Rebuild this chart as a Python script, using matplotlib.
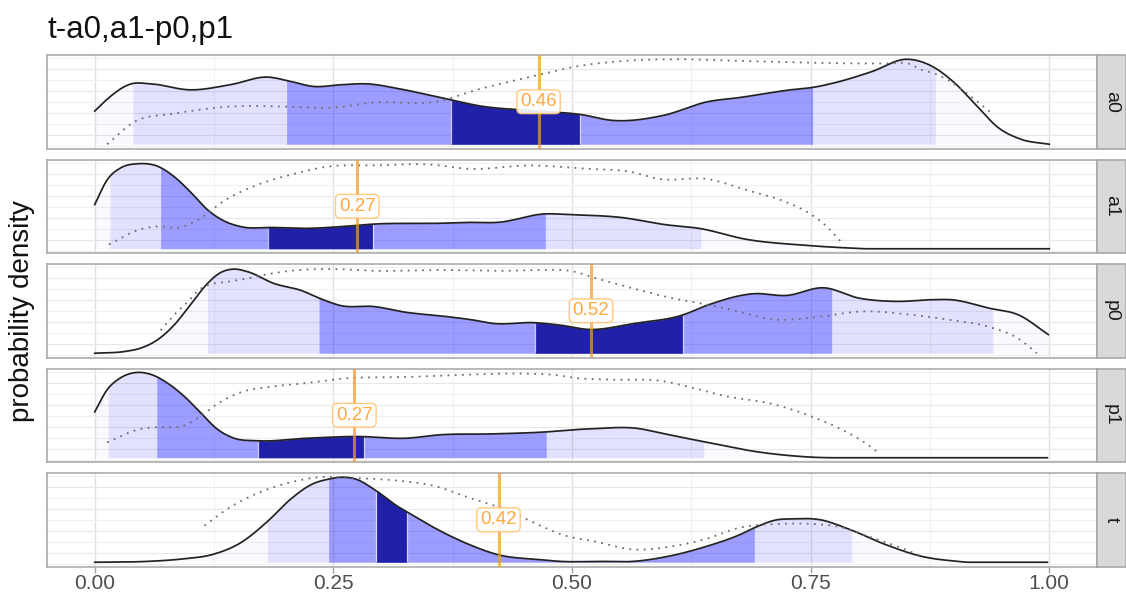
import numpy as np
import matplotlib
matplotlib.use('Agg')
import matplotlib.pyplot as plt
from matplotlib.patches import Rectangle

plt.rcParams['font.family'] = ['Liberation Sans', 'DejaVu Sans']

TITLE = "t-a0,a1-p0,p1"
YLABEL = "probability density"
facets = ["a0", "a1", "p0", "p1", "t"]
xtick_vals = [0.0, 0.25, 0.5, 0.75, 1.0]
xtick_labels = ["0.00", "0.25", "0.50", "0.75", "1.00"]

# ---- posterior density (solid) ----
a0_x = [0, .012, .038, .059, .10, .142, .181, .205, .229, .258, .286, .32, .362, .404, .467, .509,
        .543, .596, .642, .676, .729, .753, .781, .813, .852, .875, .899, .925, .946, .97, 1.0]
a0_d = [.39, .52, .71, .71, .64, .70, .79, .74, .68, .70, .71, .65, .55, .45, .39, .35,
        .28, .34, .50, .55, .64, .67, .74, .85, 1.0, .93, .74, .44, .20, .06, 0.0]
a1_x = [0, .013, .027, .045, .066, .083, .101, .118, .135, .153, .187, .223, .258, .292, .362, .393,
        .422, .472, .50, .55, .60, .633, .683, .745, .807, 1.0]
a1_d = [.52, .81, .95, 1.0, .97, .85, .66, .46, .33, .26, .25, .24, .26, .29, .30, .31,
        .31, .41, .40, .37, .28, .24, .11, .04, .0, 0.0]
p0_x = [0, .031, .048, .066, .083, .101, .118, .132, .146, .16, .188, .216, .237, .258, .292, .327,
        .362, .397, .418, .46, .488, .518, .565, .616, .643, .69, .725, .764, .80, .839, .878, .897,
        .937, .968, .999]
p0_d = [0.0, .02, .06, .16, .33, .58, .82, .95, .99, .96, .82, .74, .64, .56, .55, .48,
        .44, .39, .35, .36, .33, .28, .35, .45, .57, .70, .68, .77, .65, .61, .63, .63,
        .53, .45, .22]
p1_x = [0, .013, .027, .041, .059, .076, .093, .111, .128, .146, .17, .223, .275, .327, .362, .415,
        .467, .519, .572, .589, .642, .694, .746, .816, .998]
p1_d = [.54, .80, .94, 1.0, .98, .88, .73, .53, .34, .23, .20, .23, .25, .23, .27, .28,
        .30, .34, .34, .30, .18, .07, .01, 0.0, 0.0]
t_x = [0, .055, .093, .123, .153, .181, .205, .228, .246, .258, .273, .295, .317, .329, .355, .392,
       .422, .467, .488, .53, .564, .601, .639, .677, .692, .715, .73, .76, .79, .828, .866, .904, .998]
t_d = [0.0, .01, .04, .09, .23, .48, .74, .92, .98, 1.0, .98, .84, .66, .58, .41, .21,
       .09, .03, .01, .01, .01, .07, .18, .33, .41, .50, .51, .50, .39, .21, .07, .01, 0.0]

# ---- reference density (dotted) ----
a0_rx = [.013, .041, .083, .153, .205, .247, .292, .362, .397, .467, .502, .554, .606, .677, .747,
         .81, .83, .855, .865, .878, .899, .917, .938]
a0_r = [0.0, .26, .36, .45, .44, .43, .49, .51, .63, .82, .91, .98, 1.0, .98, .96,
        .95, .95, .94, .88, .84, .72, .57, .38]
a1_rx = [.015, .048, .062, .093, .111, .135, .170, .205, .247, .292, .352, .393, .455, .517, .559,
         .592, .642, .683, .724, .751, .765, .782]
a1_r = [.05, .23, .26, .26, .36, .56, .75, .87, .97, .98, .99, .94, .98, .94, .91,
        .82, .82, .69, .55, .40, .28, .08]
p0_rx = [.069, .083, .097, .111, .118, .139, .16, .181, .205, .251, .292, .362, .432, .467, .498,
         .526, .565, .604, .643, .682, .702, .76, .80, .858, .897, .937, .968, .987]
p0_r = [.27, .45, .60, .76, .80, .84, .88, .93, .97, .99, .97, .98, .97, .98, .97,
        .88, .76, .65, .57, .47, .41, .43, .49, .45, .39, .31, .17, 0.0]
p1_rx = [.013, .048, .066, .094, .111, .128, .153, .188, .223, .258, .327, .397, .45, .485, .502,
         .537, .596, .624, .659, .711, .75, .781, .809, .823]
p1_r = [.18, .34, .36, .38, .49, .63, .77, .84, .88, .93, .95, .98, .99, .97, .94,
        .92, .90, .83, .73, .63, .49, .34, .16, .04]
t_rx = [.115, .138, .168, .205, .235, .273, .317, .355, .392, .43, .467, .488, .526, .564, .601,
        .639, .677, .715, .753, .783, .809, .847, .866]
t_r = [.43, .62, .80, .94, 1.0, .99, .96, .90, .76, .62, .43, .33, .24, .15, .18,
       .27, .41, .45, .45, .41, .31, .16, .07]

# ---- credible intervals (outer, middle, inner) and point value ----
a0_bands = [(.04, .881), (.201, .752), (.373, .508)]
a1_bands = [(.016, .635), (.069, .472), (.181, .291)]
p0_bands = [(.118, .941), (.235, .772), (.461, .616)]
p1_bands = [(.014, .638), (.065, .473), (.171, .282)]
t_bands = [(.181, .793), (.245, .691), (.295, .327)]
point_vals = [0.465, 0.275, 0.52, 0.272, 0.423]
point_labels = ["0.46", "0.27", "0.52", "0.27", "0.42"]

data = {
    "a0": (a0_x, a0_d, a0_rx, a0_r, a0_bands),
    "a1": (a1_x, a1_d, a1_rx, a1_r, a1_bands),
    "p0": (p0_x, p0_d, p0_rx, p0_r, p0_bands),
    "p1": (p1_x, p1_d, p1_rx, p1_r, p1_bands),
    "t": (t_x, t_d, t_rx, t_r, t_bands),
}


def hermite(x, y, xs):
    x = np.asarray(x, float)
    y = np.asarray(y, float)
    m = np.gradient(y, x)
    xs = np.asarray(xs, float)
    i = np.clip(np.searchsorted(x, xs) - 1, 0, len(x) - 2)
    h = x[i + 1] - x[i]
    t = (xs - x[i]) / h
    h00 = 2 * t**3 - 3 * t**2 + 1
    h10 = t**3 - 2 * t**2 + t
    h01 = -2 * t**3 + 3 * t**2
    h11 = t**3 - t**2
    out = h00 * y[i] + h10 * h * m[i] + h01 * y[i + 1] + h11 * h * m[i + 1]
    return np.maximum(out, 0)


W, H = 1126, 597
fig = plt.figure(figsize=(W / 100, H / 100), dpi=100)

left_px, right_px = 47, 1097
panel_h = 93.5
step = 104.5
top0 = 55

band_colors = [("#0000ff", 0.09), ("#0000ff", 0.30), ("#2020a8", 1.0)]
hgrid = np.arange(-0.024, 1.05, 0.1293)

for k, name in enumerate(facets):
    xs_, ds_, rx_, r_, bands = data[name]
    top = top0 + k * step
    bottom = top + panel_h
    ax = fig.add_axes([left_px / W, 1 - bottom / H, (right_px - left_px) / W, panel_h / H])
    ax.set_xlim(-0.05, 1.05)
    ax.set_ylim(-0.05, 1.05)
    ax.set_facecolor("white")

    # grid
    for gx in np.arange(0, 1.01, 0.125):
        major = abs(gx * 4 - round(gx * 4)) < 1e-9
        ax.axvline(gx, color="#e1e1e1" if major else "#f0f0f0", lw=1.0 if major else 0.7, zorder=0)
    for j, gy in enumerate(hgrid):
        ax.axhline(gy, color="#e8e8e8" if j % 2 else "#f0f0f0", lw=0.8, zorder=0)

    fine = np.linspace(min(xs_), max(xs_), 600)
    dens = hermite(xs_, ds_, fine)
    ax.fill_between(fine, 0, dens, color="#0000ff", alpha=0.025, lw=0, zorder=1)
    for (a, b), (c, al) in zip(bands, band_colors):
        bx = np.linspace(a, b, 300)
        ax.fill_between(bx, 0, hermite(xs_, ds_, bx), color=c, alpha=al, lw=0, zorder=2)
    a, b = bands[2]
    ax.vlines([a, b], 0, hermite(xs_, ds_, [a, b]), color="white", lw=0.9, alpha=0.7, zorder=3)
    ax.plot(fine, dens, color="#222222", lw=1.25, zorder=4)

    rfine = np.linspace(min(rx_), max(rx_), 400)
    ax.plot(rfine, hermite(rx_, r_, rfine), color="#6e6e6e", lw=1.3,
            linestyle=(0, (1, 3.0)), zorder=5)

    pv = point_vals[k]
    ax.axvline(pv, color="#f39a2e", lw=2.2, alpha=0.72, zorder=6)
    ax.text(pv, 0.5, point_labels[k], ha="center", va="center", color="#ffa940", fontsize=13.5,
            zorder=7,
            bbox=dict(boxstyle="round,pad=0.18,rounding_size=0.25", facecolor="white", alpha=0.9,
                      edgecolor="#ffc470", lw=1.0))

    for sp in ax.spines.values():
        sp.set_color("#ababab")
        sp.set_linewidth(1.2)
    ax.set_yticks([])
    if k == len(facets) - 1:
        ax.set_xticks(xtick_vals)
        ax.set_xticklabels(xtick_labels, fontsize=15, color="#4d4d4d")
        ax.tick_params(axis="x", length=4, color="#a0a0a0", width=1, pad=1.5)
    else:
        ax.set_xticks([])

    # strip
    fig.patches.append(Rectangle((right_px / W, 1 - bottom / H), (W - right_px) / W, panel_h / H,
                                 transform=fig.transFigure, facecolor="#d9d9d9",
                                 edgecolor="#a8a8a8", lw=1.2, zorder=0))
    fig.text((right_px + (W - right_px) / 2) / W, 1 - (top + panel_h / 2) / H, name,
             rotation=270, ha="center", va="center", fontsize=14, color="#1a1a1a")

fig.text(left_px / W, 1 - 30 / H, TITLE, ha="left", va="center", fontsize=22.5, color="#111111")
fig.text(22 / W, 1 - (top0 + (4 * step + panel_h) / 2) / H, YLABEL, rotation=90,
         ha="center", va="center", fontsize=20, color="#111111")

fig.savefig("out.png", dpi=100)
